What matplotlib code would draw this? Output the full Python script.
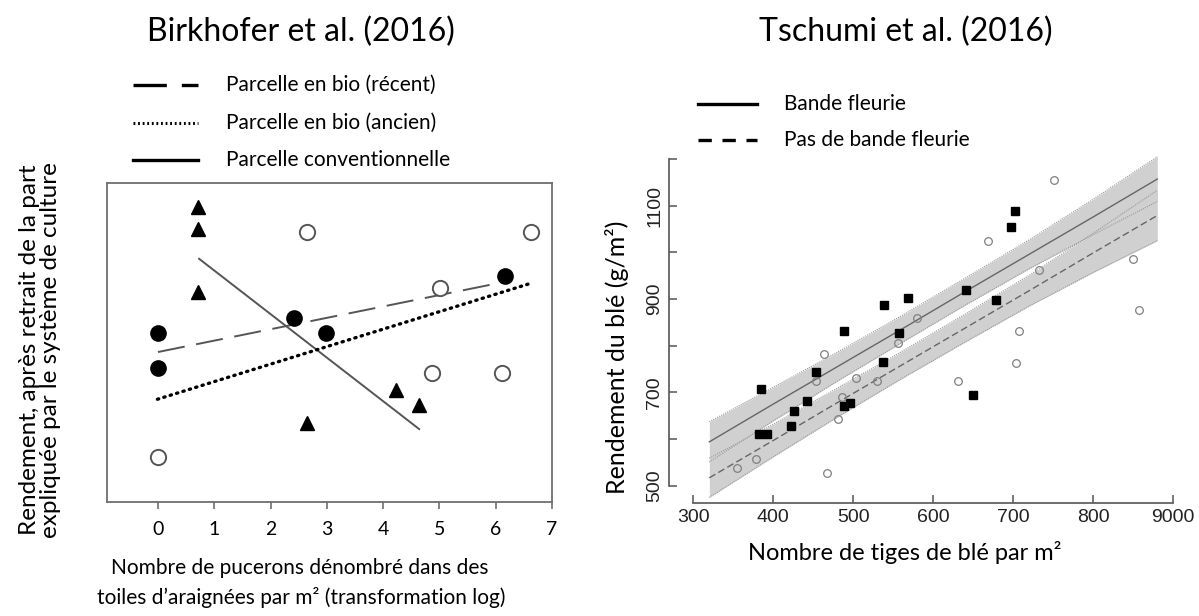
import numpy as np
import matplotlib
matplotlib.use("Agg")
import matplotlib.pyplot as plt
from matplotlib.lines import Line2D

W, H = 1199, 616

# --- Birkhofer et al. (2016) ---
tri_x = [0.71, 0.71, 0.71, 2.64, 4.22, 4.64]
tri_y = [9.30, 8.61, 6.61, 2.48, 3.52, 3.06]
full_x = [0, 0, 2.42, 2.98, 6.16]
full_y = [5.34, 4.24, 5.81, 5.34, 7.12]
open_x = [0, 2.64, 4.87, 5.01, 6.12, 6.62]
open_y = [1.41, 8.53, 4.08, 6.75, 4.08, 8.53]
conv_x, conv_y = [0.73, 4.64], [7.67, 2.30]
recent_x, recent_y = [0, 6.07], [4.73, 6.91]
ancien_x, ancien_y = [-0.01, 6.61], [3.24, 6.89]
left_ticks = [0, 1, 2, 3, 4, 5, 6, 7]

# --- Tschumi et al. (2016) ---
sq_x = [385, 382.5, 391.7, 422.5, 426.3, 441.7, 453, 488.8, 488.8, 495.9,
        537.1, 538.8, 556.7, 568.8, 640.9, 650, 678, 696.7, 702]
sq_y = [708, 611, 610, 628, 660, 681, 743, 832, 671, 677,
        765, 888, 827, 903, 919, 694, 898, 1054, 1089]
oc_x = [354.2, 378.4, 453.4, 463.8, 467.5, 480.5, 486.3, 503.4, 529.2, 555.5,
        579.2, 631.3, 668, 703, 707.5, 732.5, 750.9, 850, 857.5]
oc_y = [539, 557, 724, 782, 527, 642, 691, 731, 724, 805,
        859, 725, 1024, 762, 832, 962, 1155, 985, 877]
band_x = np.array([320, 400, 480, 560, 640, 720, 800, 880])
fleur_line = np.array([594, 675, 755, 835, 916, 996, 1076, 1157])
fleur_hw = np.array([43, 36, 31, 29, 29, 31, 38, 48])
nofleur_line = np.array([517, 597, 678, 758, 838, 918, 999, 1079])
nofleur_hw = np.array([42, 35, 31, 29, 30, 33, 42, 54])
right_xticks = [300, 400, 500, 600, 700, 800, 900]
right_xlabels = ["300", "400", "500", "600", "700", "800", "9000"]
right_yticks = [500, 600, 700, 800, 900, 1000, 1100, 1200]
right_ylabels = ["500", "", "700", "", "900", "", "1100", ""]

CAL = ["Lato", "DejaVu Sans"]
ARL = ["Liberation Sans", "DejaVu Sans"]


def fx(px):
    return px / W


def fy(py):
    return 1 - py / H


fig = plt.figure(figsize=(W / 100, H / 100), dpi=100)

# ---------------- left panel ----------------
ax1 = fig.add_axes([fx(107), fy(502), fx(552) - fx(107), fy(183) - fy(502)])
ax1.set_xlim(-0.906, 7.0)
ax1.set_ylim(0, 10.06)
for s in ax1.spines.values():
    s.set_color("#6e6e6e")
    s.set_linewidth(1.3)
ax1.set_yticks([])
ax1.set_xticks(left_ticks)
ax1.set_xticklabels([str(t) for t in left_ticks], family=CAL, fontsize=14)
ax1.tick_params(axis="x", direction="out", length=5, width=1.2, color="#6e6e6e", pad=9)

ax1.plot(conv_x, conv_y, color="#555555", lw=1.4)
ax1.plot(recent_x, recent_y, color="#555555", lw=1.4, dashes=(14, 6))
ax1.plot(ancien_x, ancien_y, color="black", lw=2.4, dashes=(0.4, 1.6),
         dash_capstyle="round")
ax1.plot(tri_x, tri_y, ls="none", marker="^", ms=10, color="black")
ax1.plot(full_x, full_y, ls="none", marker="o", ms=11, color="black")
ax1.plot(open_x, open_y, ls="none", marker="o", ms=11, mfc="white",
         mec="#555555", mew=1.4)

fig.text(fx(301), fy(32), "Birkhofer et al. (2016)", ha="center", va="center",
         family=CAL, fontsize=23)
fig.text(fx(300), fy(568), "Nombre de pucerons dénombré dans des",
         ha="center", va="center", family=CAL, fontsize=15)
fig.text(fx(301), fy(597), "toiles d’araignées par m² (transformation log)",
         ha="center", va="center", family=CAL, fontsize=15)
fig.text(fx(40), fy(350),
         "Rendement, après retrait de la part\nexpliquée par le système de culture",
         ha="center", va="center", rotation=90, family=CAL, fontsize=17.5,
         linespacing=1.05)

# legend left
leg_rows = [(85, dict(dashes=(10, 4.5)), "Parcelle en bio (récent)"),
            (123, dict(dashes=(0.6, 0.9), lw=2.2), "Parcelle en bio (ancien)"),
            (160, dict(), "Parcelle conventionnelle")]
for py, st, lab in leg_rows:
    kw = dict(color="black", lw=2.4)
    kw.update(st)
    fig.add_artist(Line2D([fx(133), fx(198)], [fy(py), fy(py)],
                          transform=fig.transFigure, **kw))
    fig.text(fx(226), fy(py), lab, ha="left", va="center", family=CAL,
             fontsize=15)

# ---------------- right panel ----------------
ax2 = fig.add_axes([fx(669), fy(503), fx(1190) - fx(669), fy(150) - fy(503)])
ax2.set_xlim(269.6, 920.9)
ax2.set_ylim(463, 1219.3)
ax2.spines["top"].set_visible(False)
ax2.spines["right"].set_visible(False)
for s in ("left", "bottom"):
    ax2.spines[s].set_color("#555555")
    ax2.spines[s].set_linewidth(1.2)
ax2.spines["left"].set_bounds(500, 1200)
ax2.spines["bottom"].set_bounds(300, 900)
ax2.set_xticks(right_xticks)
ax2.set_xticklabels(right_xlabels, family=ARL, fontsize=14, color="#222222")
ax2.set_yticks(right_yticks)
ax2.set_yticklabels(right_ylabels, family=ARL, fontsize=14, color="#222222",
                    rotation=90, va="center")
ax2.tick_params(direction="in", length=6, width=1.1, color="#555555")
ax2.tick_params(axis="x", pad=4)
ax2.tick_params(axis="y", pad=4)

band_col = "#d0d0d0"
for line, hw in [(fleur_line, fleur_hw), (nofleur_line, nofleur_hw)]:
    ax2.fill_between(band_x, line - hw, line + hw, color=band_col, lw=0, zorder=1)
for line, hw, ls in [(fleur_line, fleur_hw, "-"), (nofleur_line, nofleur_hw, (0, (5, 2.5)))]:
    ax2.plot(band_x, line - hw, color="#9a9a9a", lw=0.8, ls=(0, (1, 1)), zorder=2)
    ax2.plot(band_x, line + hw, color="#9a9a9a", lw=0.8, ls=(0, (1, 1)), zorder=2)
    ax2.plot(band_x, line, color="#666666", lw=1.0, ls=ls, zorder=3)

ax2.plot(sq_x, sq_y, ls="none", marker="s", ms=5.5, color="black", zorder=4)
ax2.plot(oc_x, oc_y, ls="none", marker="o", ms=5.5, mfc="none", mec="#808080",
         mew=0.9, zorder=4)

fig.text(fx(906), fy(32), "Tschumi et al. (2016)", ha="center", va="center",
         family=CAL, fontsize=23)
fig.text(fx(905), fy(553), "Nombre de tiges de blé par m²", ha="center",
         va="center", family=CAL, fontsize=17)
fig.text(fx(617), fy(357), "Rendement du blé (g/m²)", ha="center", va="center",
         rotation=90, family=CAL, fontsize=18)

fig.add_artist(Line2D([fx(698), fx(757)], [fy(104), fy(104)],
                      transform=fig.transFigure, color="black", lw=2.4))
fig.add_artist(Line2D([fx(698), fx(757)], [fy(140), fy(140)],
                      transform=fig.transFigure, color="black", lw=2.4,
                      dashes=(4, 3.2)))
fig.text(fx(784), fy(104), "Bande fleurie", ha="left", va="center",
         family=CAL, fontsize=15)
fig.text(fx(784), fy(140), "Pas de bande fleurie", ha="left", va="center",
         family=CAL, fontsize=15)

fig.savefig("out.png", dpi=100)
